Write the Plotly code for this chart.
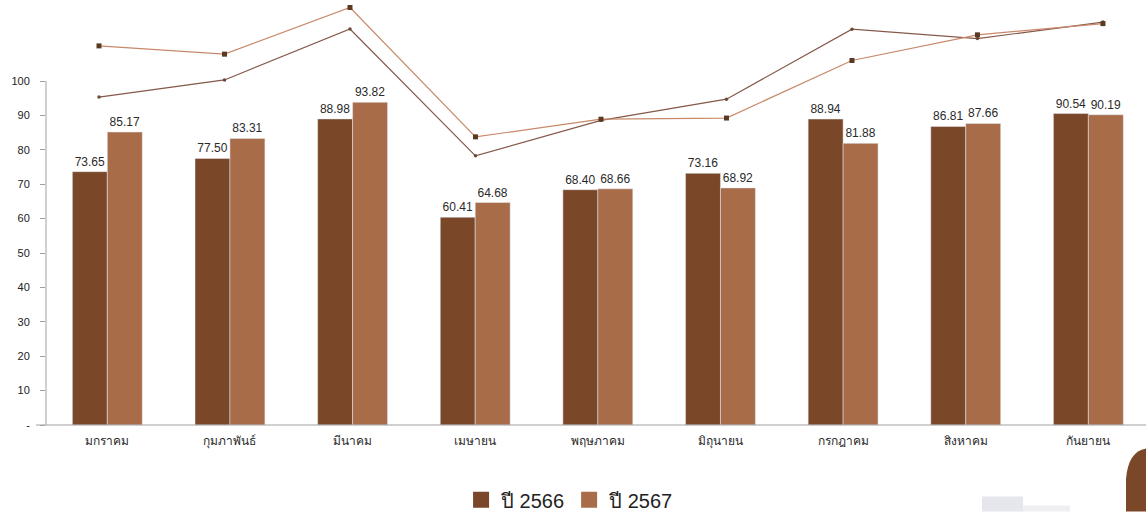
import plotly.graph_objects as go

months = ["มกราคม", "กุมภาพันธ์", "มีนาคม", "เมษายน", "พฤษภาคม",
          "มิถุนายน", "กรกฎาคม", "สิงหาคม", "กันยายน"]
v2566 = [73.65, 77.50, 88.98, 60.41, 68.40, 73.16, 88.94, 86.81, 90.54]
v2567 = [85.17, 83.31, 93.82, 64.68, 68.66, 68.92, 81.88, 87.66, 90.19]
names = ["ปี 2566", "ปี 2567"]
ytick_vals = [0, 10, 20, 30, 40, 50, 60, 70, 80, 90, 100]
ytick_text = ["-"] + [str(v) for v in ytick_vals[1:]]

c_dark = "#7A4828"
c_light = "#A86C48"

W, H = 1146, 512
ml, mr, mt, mb = 46, 0, 5, 86.5
pw, ph = W - ml - mr, H - mt - mb

fig = go.Figure()
fig.add_trace(go.Bar(x=months, y=v2566, name=names[0], marker_color=c_dark,
                     text=[f"{v:.2f}" for v in v2566], textposition="outside",
                     textfont=dict(size=12, color="#2A2A2A"), cliponaxis=False,
                     showlegend=False))
fig.add_trace(go.Bar(x=months, y=v2567, name=names[1], marker_color=c_light,
                     text=[f"{v:.2f}" for v in v2567], textposition="outside",
                     textfont=dict(size=12, color="#2A2A2A"), cliponaxis=False,
                     showlegend=False))

fig.add_trace(go.Scatter(x=months, y=v2566, xaxis="x2", yaxis="y2", mode="lines+markers",
                         line=dict(color="#86584A", width=1.2),
                         marker=dict(symbol="circle", size=3.5, color="#6A4A3A"),
                         showlegend=False, cliponaxis=False, hoverinfo="skip"))
fig.add_trace(go.Scatter(x=months, y=v2567, xaxis="x2", yaxis="y2", mode="lines+markers",
                         line=dict(color="#C8896A", width=1.2),
                         marker=dict(symbol="square", size=5, color="#5A3A20"),
                         showlegend=False, cliponaxis=False, hoverinfo="skip"))

# legend entries (large square swatches)
for nm, col in zip(names, [c_dark, c_light]):
    fig.add_trace(go.Scatter(x=[None], y=[None], mode="markers", name=nm,
                             marker=dict(symbol="square", size=16, color=col),
                             showlegend=True, hoverinfo="skip"))

def px_x(p):
    return (p - ml) / pw

def px_y(p):
    return (H - mb - p) / ph

shapes = [
    dict(type="line", xref="paper", yref="y", x0=0, x1=0, y0=0, y1=100,
         line=dict(color="#A0A0A0", width=1)),
    dict(type="line", xref="paper", yref="paper", x0=px_x(36), x1=1, y0=0, y1=0,
         line=dict(color="#A0A0A0", width=1)),
    dict(type="rect", xref="paper", yref="paper", x0=px_x(982), x1=px_x(1023),
         y0=px_y(512), y1=px_y(497), fillcolor="#E6E6EE", line=dict(width=0), layer="below"),
    dict(type="rect", xref="paper", yref="paper", x0=px_x(1023), x1=px_x(1070),
         y0=px_y(512), y1=px_y(506), fillcolor="#EEEEF3", line=dict(width=0), layer="below"),
    dict(type="path", xref="paper", yref="paper",
         path=(f"M {px_x(1126)},{px_y(512)} L {px_x(1126)},{px_y(480)} "
               f"Q {px_x(1128)},{px_y(452)} {px_x(1146)},{px_y(449)} "
               f"L {px_x(1146)},{px_y(512)} Z"),
         fillcolor="#7A4828", line=dict(width=0)),
]

fig.update_layout(
    width=W, height=H,
    margin=dict(l=ml, r=mr, t=mt, b=mb),
    paper_bgcolor="white", plot_bgcolor="white",
    barmode="group", bargap=0.43, bargroupgap=0,
    font=dict(family="Liberation Sans, Arial, sans-serif", color="#222222"),
    showlegend=True,
    legend=dict(orientation="h", xref="container", yref="container",
                x=0.497, xanchor="center", y=0.024, yanchor="middle",
                font=dict(size=20, color="#222222"), itemwidth=30,
                traceorder="normal"),
    xaxis=dict(type="category", range=[-0.5, 8.47], showline=False, showgrid=False,
               ticks="", tickfont=dict(size=12, color="#2A2A2A"), zeroline=False,
               ticklabelstandoff=7),
    yaxis=dict(range=[0, ph / 3.444], tickvals=ytick_vals, ticktext=ytick_text,
               showgrid=False, zeroline=False, showline=False,
               ticks="outside", ticklen=5, tickcolor="#A0A0A0",
               ticklabelstandoff=8, tickfont=dict(size=11, color="#222222")),
    xaxis2=dict(type="category", overlaying="x", range=[-0.4223, 8.343], visible=False),
    yaxis2=dict(overlaying="y", range=[-0.22, -0.22 + ph / 4.445], visible=False),
    shapes=shapes,
)

fig.write_html("out.html", config={"displayModeBar": False},
               post_script="document.body.style.margin='0';document.body.style.overflow='hidden';")
